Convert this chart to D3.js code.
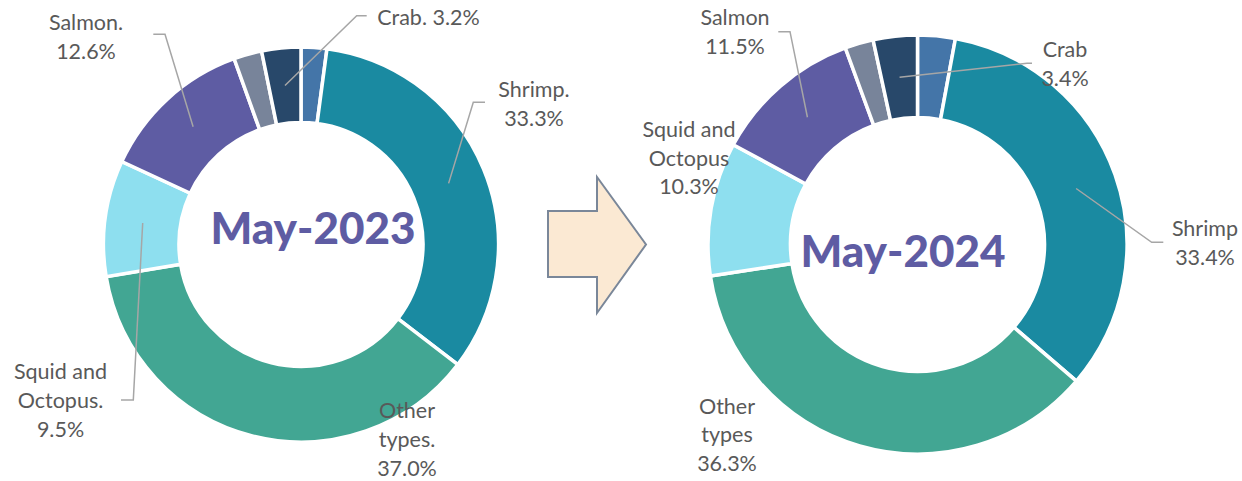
<!DOCTYPE html>
<html>
<head>
<meta charset="utf-8">
<script src="https://cdn.jsdelivr.net/npm/d3@7"></script>
<style>
  html, body { margin: 0; padding: 0; background: #ffffff; }
  svg { display: block; }
  .lbl { font-family: Lato, "Open Sans", sans-serif; font-size: 21.5px; fill: #595959; }
  .center { font-family: Lato, sans-serif; font-weight: 900; font-size: 44px; fill: #5E5CA3; }
</style>
</head>
<body>
<svg id="chart" width="1242" height="481"></svg>
<script>
// ---- data ----
const categories = ["Unlabeled A", "Shrimp", "Other types", "Squid and Octopus", "Salmon", "Unlabeled B", "Crab"];
const values2023 = [2.1, 33.3, 37.0, 9.5, 12.6, 2.3, 3.2];
const values2024 = [2.9, 33.4, 36.3, 10.3, 11.5, 2.2, 3.4];
const labels2023 = ["", "Shrimp.\n33.3%", "Other\ntypes.\n37.0%", "Squid and\nOctopus.\n9.5%", "Salmon.\n12.6%", "", "Crab. 3.2%"];
const labels2024 = ["", "Shrimp\n33.4%", "Other\ntypes\n36.3%", "Squid and\nOctopus\n10.3%", "Salmon\n11.5%", "", "Crab\n3.4%"];
const titles = ["May-2023", "May-2024"];
const colors = ["#4475A8", "#1A8AA1", "#42A693", "#8EDFEF", "#5E5CA3", "#78849A", "#28486A"];

// ---- layout ----
const svg = d3.select("#chart");
const color = d3.scaleOrdinal().domain(categories).range(colors);
const lineH = 28.8;

const charts = [
  {
    values: values2023, labels: labels2023, title: titles[0],
    cx: 301, cy: 244.5, r0: 122, r1: 197.5,
    titlePos: [313, 243.5],
    lab: {
      1: { x: 534, y: 96.7, elbow: [473.3, 102.3], end: [485, 102.3] },
      2: { x: 407, y: 418.3 },
      3: { x: 60.5, y: 379.3, elbow: [133.3, 400], end: [121, 400] },
      4: { x: 86, y: 30, elbow: [165, 34.3], end: [153.3, 34.3] },
      6: { x: 428.5, y: 25, elbow: [356.7, 15.7], end: [366.7, 15.7] }
    }
  },
  {
    values: values2024, labels: labels2024, title: titles[1],
    cx: 917.5, cy: 244.5, r0: 127, r1: 209.5,
    titlePos: [903, 267],
    lab: {
      1: { x: 1205, y: 236, elbow: [1151.7, 242.3], end: [1163.3, 242.3] },
      2: { x: 727, y: 413.5 },
      3: { x: 689, y: 136.7 },
      4: { x: 735, y: 25, elbow: [790, 31.7], end: [778.3, 31.7] },
      6: { x: 1065, y: 57.3, elbow: [1027, 63.2], end: [1032, 63.2] }
    }
  }
];

const pie = d3.pie().sort(null).value(d => d.v).startAngle(0).endAngle(2 * Math.PI);

charts.forEach(c => {
  const g = svg.append("g").attr("transform", `translate(${c.cx},${c.cy})`);
  const arc = d3.arc().innerRadius(c.r0).outerRadius(c.r1);
  const arcs = pie(categories.map((k, i) => ({ k, v: c.values[i], i })));

  g.selectAll("path.slice").data(arcs).join("path")
    .attr("class", "slice")
    .attr("d", arc)
    .attr("fill", d => color(d.data.k))
    .attr("stroke", "#ffffff")
    .attr("stroke-width", 3.5)
    .attr("stroke-linejoin", "miter");

  // leader lines
  arcs.forEach(d => {
    const L = c.lab[d.data.i];
    if (!L || !L.elbow) return;
    const [ax, ay] = arc.centroid(d);
    const pts = [[c.cx + ax, c.cy + ay], L.elbow, L.end];
    svg.append("path")
      .attr("d", d3.line()(pts))
      .attr("fill", "none")
      .attr("stroke", "#A6A6A6")
      .attr("stroke-width", 1.5);
  });

  // labels
  arcs.forEach(d => {
    const L = c.lab[d.data.i];
    const txt = c.labels[d.data.i];
    if (!L || !txt) return;
    const t = svg.append("text").attr("class", "lbl").attr("text-anchor", "middle");
    txt.split("\n").forEach((line, j) => {
      t.append("tspan").attr("x", L.x).attr("y", L.y + j * lineH).text(line);
    });
  });

  svg.append("text").attr("class", "center")
    .attr("x", c.titlePos[0]).attr("y", c.titlePos[1])
    .attr("text-anchor", "middle")
    .text(c.title);
});

// arrow between the two donuts
const arrowPts = [[548, 211], [597, 211], [597, 177], [646, 244.5], [597, 313], [597, 277], [548, 277]];
svg.append("path")
  .attr("d", d3.line()(arrowPts) + "Z")
  .attr("fill", "#FBE9D3")
  .attr("stroke", "#7A8799")
  .attr("stroke-width", 2)
  .attr("stroke-linejoin", "miter");
</script>
</body>
</html>
